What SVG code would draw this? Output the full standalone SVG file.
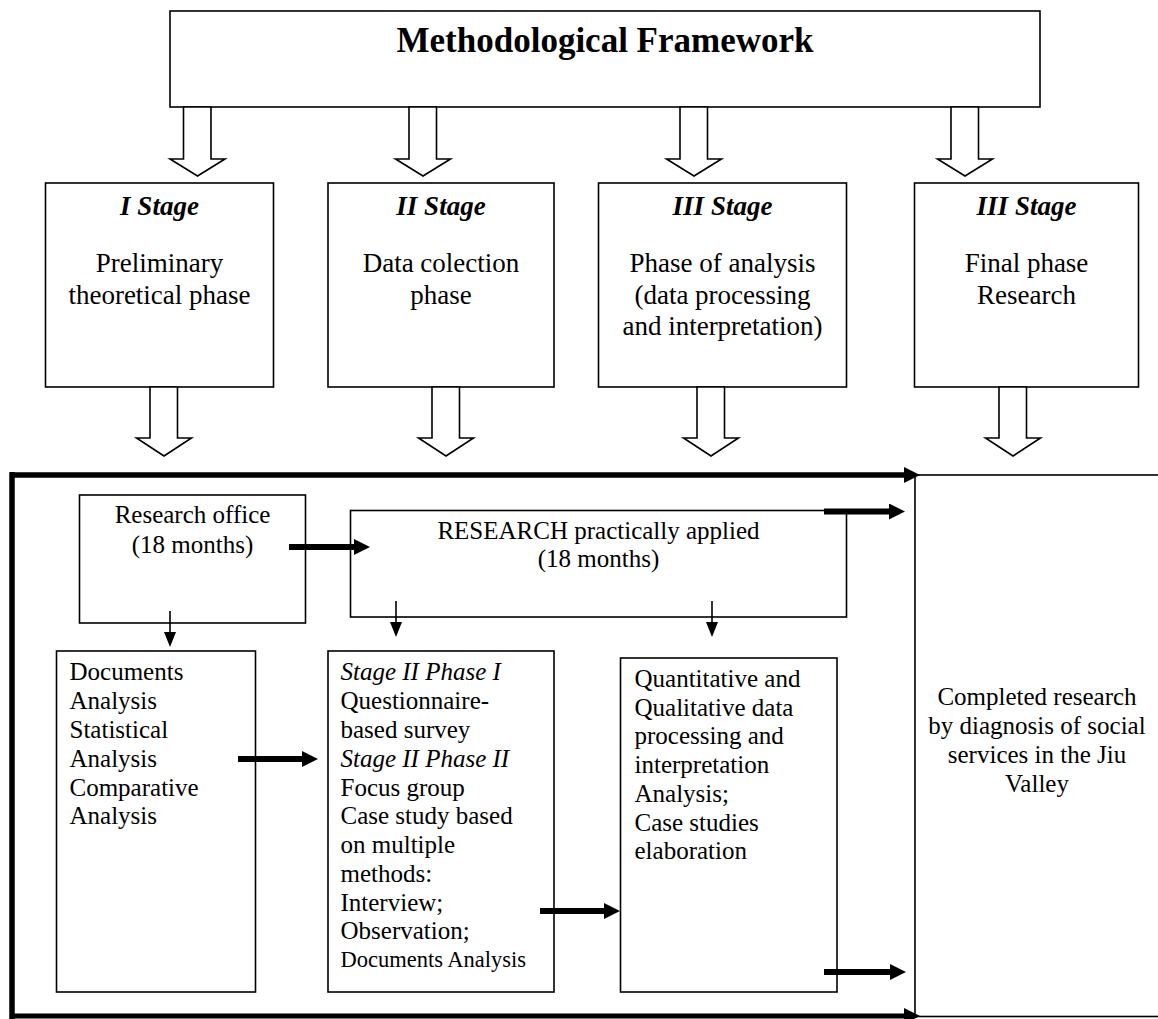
<svg xmlns="http://www.w3.org/2000/svg" width="1158" height="1019" viewBox="0 0 1158 1019">
<style>
text{font-family:"Liberation Serif","Times New Roman",serif;fill:#000}
.title{font-size:35px;font-weight:bold;text-anchor:middle}
.stg{font-size:27px;font-weight:bold;font-style:italic;text-anchor:middle}
.st{font-size:27px;text-anchor:middle}
.t{font-size:25px}
.c{text-anchor:middle}
.i{font-style:italic}
.box{fill:#fff;stroke:#000;stroke-width:1.6}
.blk{fill:#fff;stroke:#000;stroke-width:1.6;stroke-linejoin:miter}
.thick{stroke:#000;stroke-width:6;fill:none;marker-end:url(#hk)}
.thin{stroke:#000;stroke-width:1.6;fill:none;marker-end:url(#ht)}
.frame{stroke:#000;stroke-width:5.5;fill:none}
</style>
<defs>
<marker id="hk" markerUnits="userSpaceOnUse" viewBox="0 0 16 16" markerWidth="16" markerHeight="16" refX="0" refY="8" orient="auto"><path d="M0,0 L16,8 L0,16 Z" fill="#000"/></marker>
<marker id="ht" markerUnits="userSpaceOnUse" viewBox="0 0 15 12" markerWidth="15" markerHeight="12" refX="0" refY="6" orient="auto"><path d="M0,0 L15,6 L0,12 Z" fill="#000"/></marker>
</defs>
<rect width="1158" height="1019" fill="#fff"/>

<g id="title">
<rect class="box" x="170" y="11" width="870" height="96"/>
<text class="title" x="605" y="52">Methodological Framework</text>
</g>

<g id="stage1">
<rect class="box" x="45.5" y="183" width="228" height="204"/>
<text class="stg" x="159.5" y="215">I Stage</text>
<text class="st" x="159.5" y="272">Preliminary</text>
<text class="st" x="159.5" y="304">theoretical phase</text>
</g>
<g id="stage2">
<rect class="box" x="328" y="183" width="226" height="204"/>
<text class="stg" x="441" y="215">II Stage</text>
<text class="st" x="441" y="272">Data colection</text>
<text class="st" x="441" y="304">phase</text>
</g>
<g id="stage3">
<rect class="box" x="598.5" y="183" width="248" height="204"/>
<text class="stg" x="722.5" y="215">III Stage</text>
<text class="st" x="722.5" y="272">Phase of analysis</text>
<text class="st" x="722.5" y="304">(data processing</text>
<text class="st" x="722.5" y="335">and interpretation)</text>
</g>
<g id="stage4">
<rect class="box" x="914.5" y="183" width="224" height="204"/>
<text class="stg" x="1026.5" y="215">III Stage</text>
<text class="st" x="1026.5" y="272">Final phase</text>
<text class="st" x="1026.5" y="304">Research</text>
</g>

<g id="block-arrows">
<polygon class="blk" points="183.5,107 211,107 211,159 225,159 197.5,176 170,159 183.5,159"/>
<polygon class="blk" points="409,107 436.5,107 436.5,159 450.5,159 423,176 395.5,159 409,159"/>
<polygon class="blk" points="680,107 707.5,107 707.5,159 721.5,159 694,176 666.5,159 680,159"/>
<polygon class="blk" points="951,107 978.5,107 978.5,159 992.5,159 965,176 937.5,159 951,159"/>
<polygon class="blk" points="150,387 177.5,387 177.5,438 191.5,438 164,456 136.5,438 150,438"/>
<polygon class="blk" points="432,387 459.5,387 459.5,438 473.5,438 446,456 418.5,438 432,438"/>
<polygon class="blk" points="697,387 724.5,387 724.5,438 738.5,438 711,456 683.5,438 697,438"/>
<polygon class="blk" points="999,387 1026.5,387 1026.5,438 1040.5,438 1013,456 985.5,438 999,438"/>
</g>

<g id="final">
<rect class="box" x="915" y="475" width="300" height="541.5"/>
<text class="t c" x="1037" y="705">Completed research</text>
<text class="t c" x="1037" y="734">by diagnosis of social</text>
<text class="t c" x="1037" y="763">services in the Jiu</text>
<text class="t c" x="1037" y="792">Valley</text>
</g>

<g id="frame">
<line class="frame" x1="12" y1="472" x2="12" y2="1019"/>
<line class="thick" x1="10" y1="475" x2="904" y2="475" style="stroke-width:5.5"/>
<line class="thick" x1="10" y1="1016" x2="904" y2="1016" style="stroke-width:5"/>
</g>

<g id="office">
<rect class="box" x="79.5" y="495" width="226" height="128"/>
<text class="t c" x="192.5" y="523">Research office</text>
<text class="t c" x="192.5" y="553">(18 months)</text>
</g>
<g id="applied">
<rect class="box" x="350.5" y="510.5" width="496" height="106.5"/>
<text class="t c" x="598.5" y="539">RESEARCH practically applied</text>
<text class="t c" x="598.5" y="567">(18 months)</text>
</g>
<g id="documents">
<rect class="box" x="56.5" y="651" width="199" height="341"/>
<text class="t" x="69.5" y="680">Documents</text>
<text class="t" x="69.5" y="709">Analysis</text>
<text class="t" x="69.5" y="738">Statistical</text>
<text class="t" x="69.5" y="767">Analysis</text>
<text class="t" x="69.5" y="796">Comparative</text>
<text class="t" x="69.5" y="824">Analysis</text>
</g>
<g id="fieldwork">
<rect class="box" x="328" y="651" width="226" height="341"/>
<text class="t i" x="340.5" y="680">Stage II Phase I</text>
<text class="t" x="340.5" y="709">Questionnaire-</text>
<text class="t" x="340.5" y="738">based survey</text>
<text class="t i" x="340.5" y="767">Stage II Phase II</text>
<text class="t" x="340.5" y="796">Focus group</text>
<text class="t" x="340.5" y="824">Case study based</text>
<text class="t" x="340.5" y="853">on multiple</text>
<text class="t" x="340.5" y="882">methods:</text>
<text class="t" x="340.5" y="911">Interview;</text>
<text class="t" x="340.5" y="939">Observation;</text>
<text x="340.5" y="967" style="font-size:22.5px">Documents Analysis</text>
</g>
<g id="analysis">
<rect class="box" x="620.5" y="658" width="216.5" height="334"/>
<text class="t" x="634.5" y="687">Quantitative and</text>
<text class="t" x="634.5" y="716">Qualitative data</text>
<text class="t" x="634.5" y="744">processing and</text>
<text class="t" x="634.5" y="773">interpretation</text>
<text class="t" x="634.5" y="802">Analysis;</text>
<text class="t" x="634.5" y="831">Case studies</text>
<text class="t" x="634.5" y="859">elaboration</text>
</g>

<g id="connectors">
<line class="thick" x1="289" y1="547" x2="354" y2="547"/>
<line class="thick" x1="824" y1="511.5" x2="889" y2="511.5"/>
<line class="thick" x1="238" y1="759" x2="302" y2="759"/>
<line class="thick" x1="540" y1="911" x2="604" y2="911"/>
<line class="thick" x1="824" y1="972" x2="890" y2="972"/>
<line class="thin" x1="170" y1="611" x2="170" y2="632"/>
<line class="thin" x1="396" y1="601" x2="396" y2="622"/>
<line class="thin" x1="712" y1="601" x2="712" y2="622"/>
</g>
</svg>
